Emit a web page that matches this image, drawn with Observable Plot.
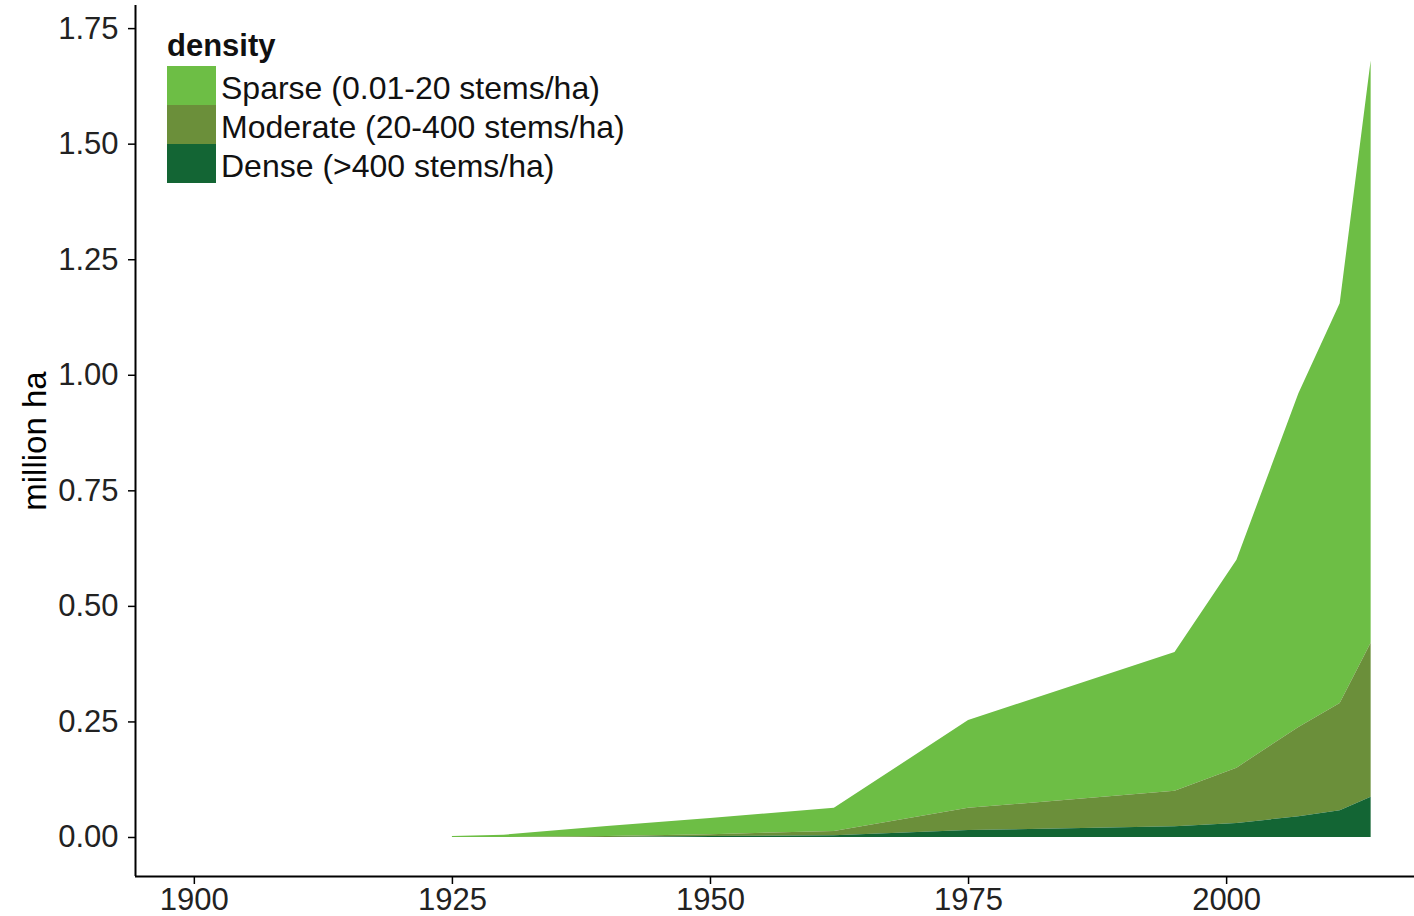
<!DOCTYPE html>
<html>
<head>
<meta charset="utf-8">
<script src="https://cdn.jsdelivr.net/npm/d3@7"></script>
<script src="https://cdn.jsdelivr.net/npm/@observablehq/plot@0.6"></script>
<style>
  html, body { margin: 0; padding: 0; background: #fff; }
  #wrap { position: relative; width: 1414px; height: 916px; font-family: "Liberation Sans", Arial, sans-serif; }
  #legend { position: absolute; left: 167px; top: 29px; color: #111; }
  #legend .title { font-weight: bold; font-size: 31px; line-height: 34px; height: 37px; }
  #legend .row { display: flex; align-items: center; height: 39px; }
  #legend .key { width: 49px; height: 39px; margin-right: 5px; }
  #legend .lab { font-size: 32px; white-space: nowrap; padding-top: 5px; }
</style>
</head>
<body>
<div id="wrap"></div>
<script>
// ---- data ----
const years = [1925, 1930, 1940, 1950, 1962, 1975, 1995, 2001, 2007, 2011, 2014];
const dense    = [0, 0, 0, 0.002, 0.004, 0.015, 0.023, 0.030, 0.045, 0.058, 0.087];
const moderate = [0, 0, 0.002, 0.004, 0.009, 0.048, 0.077, 0.120, 0.193, 0.232, 0.333];
const sparse   = [0.002, 0.005, 0.022, 0.035, 0.050, 0.190, 0.300, 0.450, 0.722, 0.865, 1.260];
const categories = ["Sparse (0.01-20 stems/ha)", "Moderate (20-400 stems/ha)", "Dense (>400 stems/ha)"];
const colors = ["#6dbe45", "#6b8f3a", "#136534"];
const xTicks = [1900, 1925, 1950, 1975, 2000];
const yTicks = [0, 0.25, 0.5, 0.75, 1.0, 1.25, 1.5, 1.75];
const xDomain = [1894.3, 2018.2];
const yDomain = [-0.0844, 1.80];

const series = [sparse, moderate, dense];
const rows = [];
categories.forEach((c, i) => years.forEach((y, j) => rows.push({year: y, value: series[i][j], density: c})));

const chart = Plot.plot({
  width: 1414,
  height: 916,
  marginLeft: 135,
  marginRight: 0,
  marginTop: 5,
  marginBottom: 40,
  style: {fontFamily: "Liberation Sans, Arial, sans-serif", fontSize: "31px", color: "#222", background: "#fff"},
  x: {domain: xDomain, label: null},
  y: {domain: yDomain, label: null},
  color: {domain: categories, range: colors},
  marks: [
    Plot.areaY(rows, {x: "year", y: "value", z: "density", fill: "density",
      order: [categories[2], categories[1], categories[0]]}),
    Plot.ruleX([xDomain[0]], {stroke: "#000", strokeWidth: 2}),
    Plot.ruleY([yDomain[0]], {stroke: "#000", strokeWidth: 2}),
    Plot.axisX({ticks: xTicks, tickFormat: d => String(d), tickSize: 8, tickPadding: 3, stroke: "#000", strokeWidth: 1.5, fill: "#222", fontSize: 31}),
    Plot.axisY({ticks: yTicks, tickFormat: d3.format(".2f"), tickSize: 7, tickPadding: 10, stroke: "#000", strokeWidth: 1.5, fill: "#222", fontSize: 31}),
    Plot.text(["million ha"], {frameAnchor: "left", textAnchor: "middle", rotate: -90, dx: -100, fontSize: 33, fill: "#000"})
  ]
});

const wrap = document.getElementById("wrap");
wrap.appendChild(chart);

const legend = document.createElement("div");
legend.id = "legend";
let html = '<div class="title">density</div>';
categories.forEach((c, i) => {
  html += `<div class="row"><div class="key" style="background:${colors[i]}"></div><div class="lab"></div></div>`;
});
legend.innerHTML = html;
legend.querySelectorAll(".lab").forEach((el, i) => el.textContent = categories[i]);
wrap.appendChild(legend);
</script>
</body>
</html>
